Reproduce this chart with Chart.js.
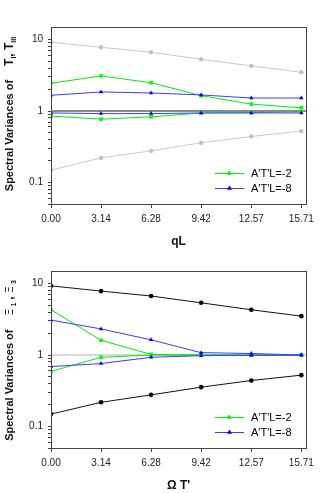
<!DOCTYPE html>
<html>
<head>
<meta charset="utf-8">
<script src="https://cdn.jsdelivr.net/npm/chart.js@4/dist/chart.umd.min.js"></script>
<style>
  html, body { margin: 0; padding: 0; background: #fff; }
  #wrap { position: relative; width: 320px; height: 493px; overflow: hidden; background: #fff; }
  .cv { position: absolute; left: 0; width: 320px; height: 249px; }
  .ytitle { position: absolute; left: 10px; transform: translate(-50%, -50%) rotate(-90deg);
            white-space: nowrap; font-family: "Liberation Sans", Arial, sans-serif; font-weight: bold;
            font-size: 11px; color: #111; line-height: 1; }
  .ytitle .sym { font-size: 12px; margin-left: 14px; }
  .ytitle sub { font-size: 7px; vertical-align: -3px; font-weight: bold; }
  .ytitle .xi { font-family: "DejaVu Sans", sans-serif; font-weight: normal; font-size: 11px; }
  .ytitle .xs { margin-left: 2px; margin-right: 3px; }
</style>
</head>
<body>
<div id="wrap">
  <canvas id="c1" class="cv" width="320" height="249" style="top:0px"></canvas>
  <canvas id="c2" class="cv" width="320" height="249" style="top:244px"></canvas>
  <div class="ytitle" style="top:114px">Spectral Variances of<span class="sym">T<sub>I</sub>, T<sub>III</sub></span></div>
  <div class="ytitle" style="top:359px">Spectral Variances of<span class="sym"><span class="xi">Ξ</span><sub class="xs">1</sub>, <span class="xi">Ξ</span><sub class="xs">3</sub></span></div>
</div>
<script>
// ---- data ----
const xValues = [0, 3.14, 6.28, 9.42, 12.57, 15.71];
const xTickValues = [0, 3.14, 6.28, 9.42, 12.57, 15.71];
const yMajorTicks = [0.1, 1, 10];
const refLineX = [0, 16];
const refLineY = [1, 1];
const legendLabels = ["A'T'L=-2", "A'T'L=-8"];

// top panel (qL)
const topGrayHigh  = [9.2, 7.8, 6.65, 5.3, 4.28, 3.49];
const topGrayLow   = [0.149, 0.221, 0.277, 0.36, 0.44, 0.524];
const topGreenHigh = [2.45, 3.1, 2.49, 1.64, 1.25, 1.11];
const topGreenLow  = [0.85, 0.77, 0.83, 0.94, 0.95, 0.98];
const topBlueHigh  = [1.66, 1.85, 1.79, 1.68, 1.52, 1.52];
const topBlueLow   = [0.94, 0.92, 0.92, 0.94, 0.94, 0.94];

// bottom panel (Omega T')
const botBlackHigh = [9.3, 7.85, 6.7, 5.38, 4.3, 3.5];
const botBlackLow  = [0.149, 0.218, 0.277, 0.355, 0.44, 0.523];
const botGreenHigh = [4.3, 1.61, 1.02, 1.0, 1.0, 1.0];
const botGreenLow  = [0.59, 0.93, 1.0, 1.0, 1.0, 1.0];
const botBlueHigh  = [3.08, 2.32, 1.63, 1.08, 1.05, 1.0];
const botBlueLow   = [0.69, 0.76, 0.93, 0.98, 0.99, 1.0];

// ---- helpers ----
const FONT = "'Liberation Sans', Arial, sans-serif";
const GREEN = '#00ee00', GREEN_PT = '#00ff00';
const BLUE = '#3a3aff', BLUE_PT = '#0000ff';

function pts(xs, ys) { return xs.map((x, i) => ({ x: x, y: ys[i] })); }

function series(ys, color, ptColor, style, radius, order) {
  return {
    data: pts(xValues, ys), borderColor: color, backgroundColor: ptColor,
    pointBackgroundColor: ptColor, pointBorderColor: ptColor,
    borderWidth: 1, pointStyle: style, pointRadius: radius, pointBorderWidth: 0,
    tension: 0, fill: false, order: order
  };
}
function refLine(color, width) {
  return { data: pts(refLineX, refLineY), borderColor: color, borderWidth: width,
           pointRadius: 0, fill: false, order: 10 };
}

const framePlugin = {
  id: 'frame',
  afterDatasetsDraw(chart) {
    const a = chart.chartArea, ctx = chart.ctx;
    ctx.save();
    ctx.strokeStyle = '#444'; ctx.lineWidth = 1;
    ctx.strokeRect(Math.round(a.left) + 0.5, Math.round(a.top) + 0.5,
                   Math.round(a.right - a.left), Math.round(a.bottom - a.top));
    ctx.restore();
  }
};

const legendPlugin = {
  id: 'inlegend',
  afterDatasetsDraw(chart, args, opts) {
    const a = chart.chartArea, ctx = chart.ctx;
    ctx.save();
    opts.items.forEach((it, i) => {
      const y = a.bottom - 31 + i * 15;
      ctx.strokeStyle = it.color; ctx.lineWidth = 1;
      ctx.beginPath(); ctx.moveTo(215, y + 0.5); ctx.lineTo(244, y + 0.5); ctx.stroke();
      ctx.fillStyle = it.ptColor;
      ctx.beginPath();
      if (it.style === 'rect') { ctx.rect(227.5, y - 1.5, 3.5, 3.5); }
      else { ctx.moveTo(229.5, y - 2.5); ctx.lineTo(232, y + 1.8); ctx.lineTo(227, y + 1.8); ctx.closePath(); }
      ctx.fill();
      ctx.fillStyle = '#000'; ctx.font = '11px ' + FONT; ctx.textBaseline = 'middle';
      ctx.fillText(it.label, 251, y + 0.5);
    });
    ctx.restore();
  }
};

function makeChart(id, datasets, xTitle) {
  return new Chart(document.getElementById(id), {
    type: 'line',
    data: { datasets: datasets },
    plugins: [framePlugin, legendPlugin],
    options: {
      responsive: false, animation: false, devicePixelRatio: 1,
      layout: { padding: { top: 27, right: 14, left: 0, bottom: 0 } },
      plugins: {
        legend: { display: false }, tooltip: { enabled: false },
        inlegend: { items: [
          { label: legendLabels[0], color: GREEN, ptColor: GREEN_PT, style: 'rect' },
          { label: legendLabels[1], color: BLUE, ptColor: BLUE_PT, style: 'triangle' }
        ] }
      },
      scales: {
        x: {
          type: 'linear', min: 0, max: 16,
          afterBuildTicks: s => { s.ticks = xTickValues.map(v => ({ value: v })); },
          afterFit: s => { s.height = 45; },
          border: { display: false },
          grid: { drawOnChartArea: false, drawTicks: true, tickLength: 4, color: '#444' },
          ticks: { autoSkip: false, maxRotation: 0, padding: 5, color: '#222',
                   font: { family: FONT, size: 10 }, callback: v => Number(v).toFixed(2) },
          title: { display: true, text: xTitle, color: '#111', padding: { top: 0, bottom: 0 },
                   font: { family: FONT, size: 12, weight: 'bold' } }
        },
        y: {
          type: 'logarithmic', min: 0.05, max: 15,
          afterBuildTicks: s => {
            const t = [];
            [0.01, 0.1, 1, 10].forEach(d => { for (let k = 1; k <= 9; k++) {
              const v = +(d * k).toPrecision(3);
              if (v >= 0.05 && v <= 15) t.push({ value: v, major: yMajorTicks.includes(v) });
            }});
            s.ticks = t;
          },
          afterFit: s => { s.width = 51; },
          border: { display: false },
          grid: { drawOnChartArea: false, drawTicks: true, tickLength: 3, color: '#444' },
          ticks: { autoSkip: false, padding: 5, color: '#222', font: { family: FONT, size: 10 },
                   callback: v => yMajorTicks.includes(+Number(v).toPrecision(3)) ? String(+Number(v).toPrecision(3)) : '' }
        }
      }
    }
  });
}

makeChart('c1', [
  refLine('#8a8a8a', 2),
  series(topGrayHigh, '#c8c8c8', '#c0c0c0', 'circle', 2.2, 5),
  series(topGrayLow, '#c8c8c8', '#c0c0c0', 'circle', 2.2, 5),
  series(topGreenHigh, GREEN, GREEN_PT, 'rect', 2.6, 3),
  series(topGreenLow, GREEN, GREEN_PT, 'rect', 2.6, 3),
  series(topBlueHigh, BLUE, BLUE_PT, 'triangle', 2.5, 2),
  series(topBlueLow, BLUE, BLUE_PT, 'triangle', 2.5, 2)
], 'qL');

makeChart('c2', [
  refLine('#d8d8d8', 2),
  series(botBlackHigh, '#111', '#000', 'circle', 2.3, 5),
  series(botBlackLow, '#111', '#000', 'circle', 2.3, 5),
  series(botGreenHigh, GREEN, GREEN_PT, 'rect', 2.6, 3),
  series(botGreenLow, GREEN, GREEN_PT, 'rect', 2.6, 3),
  series(botBlueHigh, BLUE, BLUE_PT, 'triangle', 2.5, 2),
  series(botBlueLow, BLUE, BLUE_PT, 'triangle', 2.5, 2)
], 'Ω T\'');
</script>
</body>
</html>
